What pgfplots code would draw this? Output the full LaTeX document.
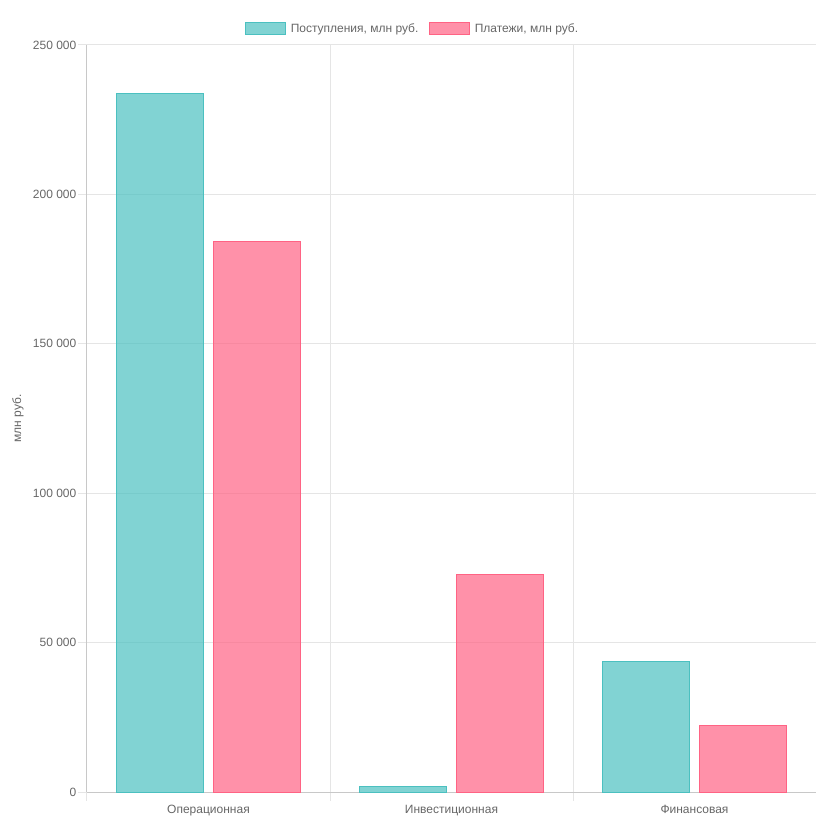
\documentclass[border=0pt]{standalone}
\usepackage{pgfplots}
\pgfplotsset{compat=1.18}
\usepackage{fontspec}
\setmainfont{Liberation Sans}
\definecolor{tealb}{RGB}{75,192,192}
\definecolor{pinkb}{RGB}{255,99,132}
\definecolor{gridc}{RGB}{229,229,229}
\definecolor{axisc}{RGB}{200,200,200}
\definecolor{txt}{RGB}{102,102,102}
\pgfplotsset{boxlegend/.style={legend image code/.code={\draw[##1] (0pt,-4.5pt) rectangle (30pt,4.5pt);}}}
\begin{document}
\begin{tikzpicture}
\path[use as bounding box] (0,0) rectangle (612pt,618.75pt);
\begin{axis}[
 at={(65.25pt,24.75pt)}, anchor=south west,
 scale only axis, width=546.75pt, height=560.25pt,
 xmin=-0.5, xmax=2.5, ymin=0, ymax=250000,
 axis lines=left, axis line style={draw=axisc,line width=0.75pt,-},
 ybar=7.3pt, bar width=65.6pt,
 xtick={-0.5,0.5,1.5}, xticklabels={},
 extra x ticks={0,1,2},
 extra x tick labels={Операционная,Инвестиционная,Финансовая},
 extra x tick style={major tick length=0pt, grid=none},
 ytick={0,50000,100000,150000,200000,250000},
 yticklabels={0,50 000,100 000,150 000,200 000,250 000},
 scaled y ticks=false,
 tick align=outside, major tick length=6.75pt,
 tick style={draw=gridc, line width=0.75pt},
 grid=major, major grid style={draw=gridc, line width=0.75pt},
 ticklabel style={font=\fontsize{9}{11}\selectfont, text=txt},
 xticklabel style={anchor=base, yshift=-15.75pt},
 yticklabel style={xshift=2.25pt},
 ylabel={млн руб.},
 every axis y label/.style={at={(rel axis cs:0,0.5)}, rotate=90, anchor=center, yshift=51.75pt, font=\fontsize{9}{11}\selectfont, text=txt},
 legend style={at={(rel axis cs:0.4403,1)}, anchor=center, xshift=3.75pt, yshift=12.2pt, draw=none, fill=none, font=\fontsize{9}{11}\selectfont, text=txt, /tikz/every odd column/.append style={column sep=1.5pt}, /tikz/every even column/.append style={column sep=6pt}},
 legend columns=2,
]
\addplot[fill=tealb, fill opacity=0.7, draw=tealb, line width=0.75pt, boxlegend]
  coordinates {(0,233600) (1,1900) (2,43800)};
\addlegendentry{Поступления, млн руб.}
\addplot[fill=pinkb, fill opacity=0.7, draw=pinkb, line width=0.75pt, boxlegend]
  coordinates {(0,184100) (1,72800) (2,22100)};
\addlegendentry{Платежи, млн руб.}
\end{axis}
\end{tikzpicture}
\end{document}
